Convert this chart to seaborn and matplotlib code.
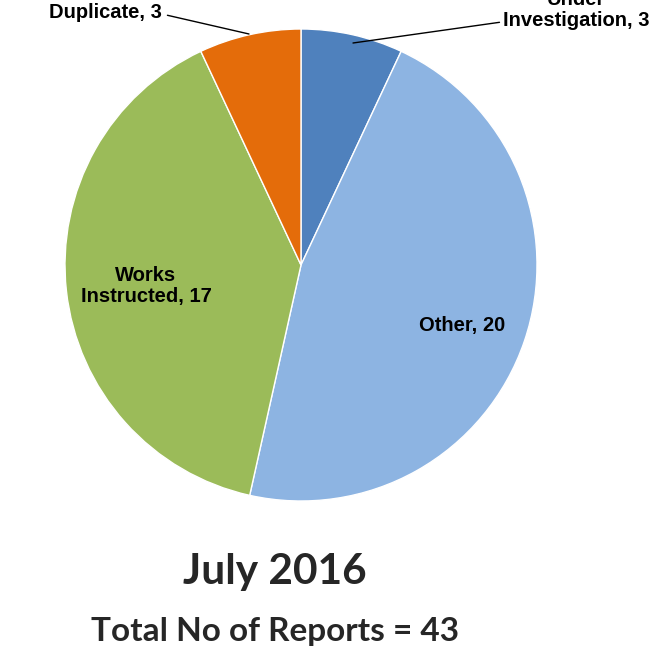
import matplotlib
matplotlib.use("Agg")
import matplotlib.pyplot as plt
import seaborn as sns

# Data
categories = ["Under\nInvestigation", "Other", "Works\nInstructed", "Duplicate"]
counts = [3, 20, 17, 3]
colors = ["#4F81BD", "#8DB4E2", "#9BBB59", "#E46C0A"]
month = "July 2016"

sns.set_theme(style="white")
plt.rcParams['font.family'] = ['Liberation Sans', 'DejaVu Sans']

W, H = 651, 658
fig = plt.figure(figsize=(W / 100, H / 100), dpi=100)
ax = fig.add_axes([0, 0, 1, 1])

cx, cy, r = 301, H - 265, 236
ax.pie(counts, colors=colors, startangle=90, counterclock=False,
       center=(cx, cy), radius=r, frame=True,
       wedgeprops=dict(edgecolor="white", linewidth=1))
ax.set_xlim(0, W)
ax.set_ylim(0, H)
ax.set_aspect("equal")
ax.axis("off")

lbl = [f"{c}, {v}" for c, v in zip(categories, counts)]
font = dict(fontsize=14.5, fontweight="bold", color="black")

# inside labels
ax.text(462, H - 325, lbl[1], ha="center", va="center", **font)
ax.text(146, H - 286, lbl[2], ha="center", va="center", multialignment="center",
        linespacing=1.1, **font)

# outside labels with leader lines
ax.annotate(lbl[3], xy=(249, H - 34), xytext=(105, H - 12),
            ha="center", va="center", **font,
            arrowprops=dict(arrowstyle="-", color="black", lw=1,
                            shrinkA=2, shrinkB=0, relpos=(1.0, 0.4)))
ax.annotate(lbl[0], xy=(353, H - 43), xytext=(576, H - 10),
            ha="center", va="center", multialignment="center",
            linespacing=1.1, **font,
            arrowprops=dict(arrowstyle="-", color="black", lw=1,
                            shrinkA=0, shrinkB=0, relpos=(0.0, 0.2)),
            annotation_clip=False)

ax.text(275, H - 572, month, ha="center", va="center",
        fontsize=30.5, fontweight="bold", family=["Lato", "DejaVu Sans"])
ax.text(275, H - 632, f"Total No of Reports = {sum(counts)}", ha="center", va="center",
        fontsize=24, fontweight="bold", family=["Lato", "DejaVu Sans"])

fig.savefig("out.png", dpi=100)
